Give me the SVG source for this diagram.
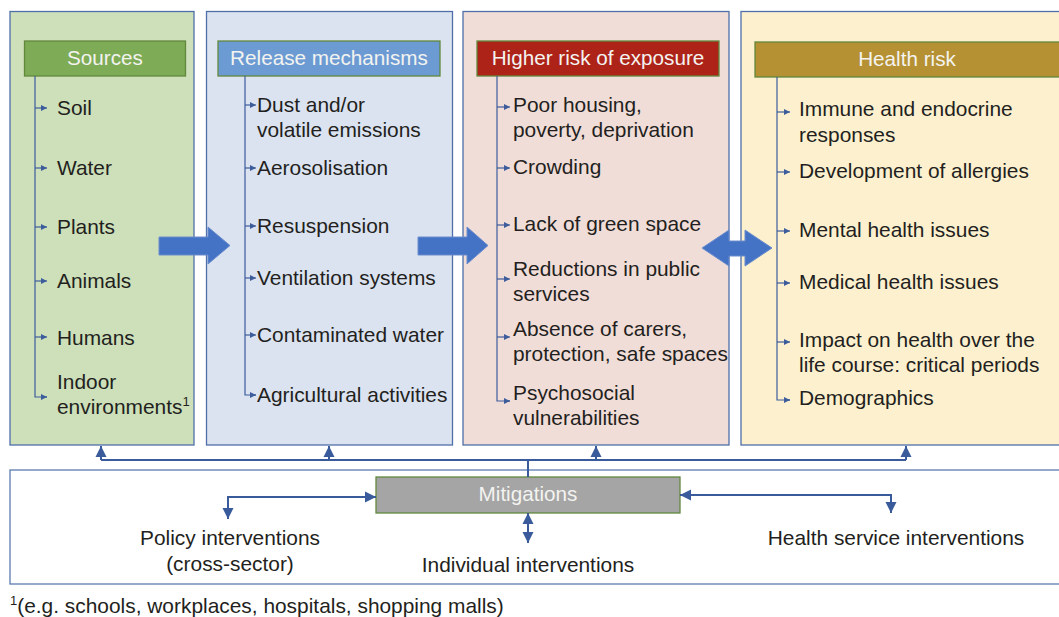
<svg xmlns="http://www.w3.org/2000/svg" width="1059" height="617" viewBox="0 0 1059 617">
<style>
.col{stroke:#4f6fa8;stroke-width:1.3}
.hdr{stroke:#62883c;stroke-width:1.3}
.ht{font-family:"Liberation Sans",Arial,sans-serif;font-size:20.7px;fill:#f3f3f0;text-anchor:middle}
.t{font-family:"Liberation Sans",Arial,sans-serif;font-size:20.9px;fill:#231f20}
.tc{font-family:"Liberation Sans",Arial,sans-serif;font-size:20.9px;fill:#231f20;text-anchor:middle}
.br{fill:none;stroke:#3d5c9c;stroke-width:1.2}
.cn{fill:none;stroke:#3a5b9b;stroke-width:2}
.blk{fill:#4472c4;stroke:#6b8dcc;stroke-width:1}
</style>
<defs>
<marker id="sa" viewBox="0 0 6 6" refX="6" refY="3" markerWidth="6" markerHeight="6" markerUnits="userSpaceOnUse" orient="auto">
<path d="M0,0 L6,3 L0,6 z" fill="#3d5c9c"/>
</marker>
<marker id="ba" viewBox="0 0 10 10" refX="10" refY="5" markerWidth="11" markerHeight="12" markerUnits="userSpaceOnUse" orient="auto">
<path d="M0,0 L10,5 L0,10 z" fill="#3a5b9b"/>
</marker>
<marker id="bs" viewBox="0 0 10 10" refX="0" refY="5" markerWidth="11" markerHeight="12" markerUnits="userSpaceOnUse" orient="auto">
<path d="M10,0 L0,5 L10,10 z" fill="#3a5b9b"/>
</marker>
</defs>

<g id="sources">
<rect class="col" x="10" y="11.5" width="184" height="433.5" fill="#cde0ba"/>
<rect class="hdr" x="24.5" y="41" width="161" height="35" fill="#7eab55"/>
<text class="ht" x="105" y="65">Sources</text>
<path class="br" d="M35,76 V397 H47"/>
<path class="br" d="M35,108 H47" marker-end="url(#sa)"/>
<path class="br" d="M35,168 H47" marker-end="url(#sa)"/>
<path class="br" d="M35,227 H47" marker-end="url(#sa)"/>
<path class="br" d="M35,281 H47" marker-end="url(#sa)"/>
<path class="br" d="M35,337 H47" marker-end="url(#sa)"/>
<path class="br" d="M46,397 H47" marker-end="url(#sa)"/>
<text class="t" x="57" y="115">Soil</text>
<text class="t" x="57" y="175">Water</text>
<text class="t" x="57" y="234">Plants</text>
<text class="t" x="57" y="288">Animals</text>
<text class="t" x="57" y="345">Humans</text>
<text class="t" x="57" y="389">Indoor</text>
<text class="t" x="57" y="414">environments<tspan font-size="13" dy="-8">1</tspan></text>
</g>

<g id="release">
<rect class="col" x="206.5" y="11.5" width="246" height="433.5" fill="#dbe3f0"/>
<rect class="hdr" x="218" y="41" width="222" height="35" fill="#6c9bd3"/>
<text class="ht" x="329" y="65">Release mechanisms</text>
<path class="br" d="M245,76 V395 H256"/>
<path class="br" d="M245,105 H256" marker-end="url(#sa)"/>
<path class="br" d="M245,168 H256" marker-end="url(#sa)"/>
<path class="br" d="M245,226 H256" marker-end="url(#sa)"/>
<path class="br" d="M245,278 H256" marker-end="url(#sa)"/>
<path class="br" d="M245,335 H256" marker-end="url(#sa)"/>
<path class="br" d="M250,395 H256" marker-end="url(#sa)"/>
<text class="t" x="257" y="112">Dust and/or</text>
<text class="t" x="257" y="137">volatile emissions</text>
<text class="t" x="257" y="175">Aerosolisation</text>
<text class="t" x="257" y="233">Resuspension</text>
<text class="t" x="257" y="285">Ventilation systems</text>
<text class="t" x="257" y="342">Contaminated water</text>
<text class="t" x="257" y="402">Agricultural activities</text>
</g>

<g id="exposure">
<rect class="col" x="463" y="11.5" width="266" height="433.5" fill="#f1ddd8"/>
<rect class="hdr" x="477" y="41" width="242" height="35" fill="#ae2318"/>
<text class="ht" x="598" y="65">Higher risk of exposure</text>
<path class="br" d="M497,76 V401 H510"/>
<path class="br" d="M497,107 H510" marker-end="url(#sa)"/>
<path class="br" d="M497,168 H510" marker-end="url(#sa)"/>
<path class="br" d="M497,225 H510" marker-end="url(#sa)"/>
<path class="br" d="M497,279 H510" marker-end="url(#sa)"/>
<path class="br" d="M497,337 H510" marker-end="url(#sa)"/>
<path class="br" d="M504,401 H510" marker-end="url(#sa)"/>
<text class="t" x="513" y="112">Poor housing,</text>
<text class="t" x="513" y="137">poverty, deprivation</text>
<text class="t" x="513" y="174">Crowding</text>
<text class="t" x="513" y="231">Lack of green space</text>
<text class="t" x="513" y="276">Reductions in public</text>
<text class="t" x="513" y="301">services</text>
<text class="t" x="513" y="336">Absence of carers,</text>
<text class="t" x="513" y="361">protection, safe spaces</text>
<text class="t" x="513" y="400">Psychosocial</text>
<text class="t" x="513" y="425">vulnerabilities</text>
</g>

<g id="health">
<rect class="col" x="741" y="11.5" width="330" height="433.5" fill="#fcf0cf"/>
<rect class="hdr" x="755" y="42" width="320" height="35" fill="#b69133"/>
<text class="ht" x="907" y="66">Health risk</text>
<path class="br" d="M777,77 V400 H790"/>
<path class="br" d="M777,112 H790" marker-end="url(#sa)"/>
<path class="br" d="M777,172 H790" marker-end="url(#sa)"/>
<path class="br" d="M777,231 H790" marker-end="url(#sa)"/>
<path class="br" d="M777,283 H790" marker-end="url(#sa)"/>
<path class="br" d="M777,342 H790" marker-end="url(#sa)"/>
<path class="br" d="M784,400 H790" marker-end="url(#sa)"/>
<text class="t" x="799" y="116">Immune and endocrine</text>
<text class="t" x="799" y="142">responses</text>
<text class="t" x="799" y="178">Development of allergies</text>
<text class="t" x="799" y="237">Mental health issues</text>
<text class="t" x="799" y="289">Medical health issues</text>
<text class="t" x="799" y="347">Impact on health over the</text>
<text class="t" x="799" y="372">life course: critical periods</text>
<text class="t" x="799" y="405">Demographics</text>
</g>

<g id="mitigation-panel">
<rect x="10" y="470" width="1060" height="114" fill="#ffffff" stroke="#5b7bb0" stroke-width="1.3"/>
</g>

<g id="mitigations">
<rect x="376" y="477" width="304" height="36" fill="#a5a5a5" stroke="#62883c" stroke-width="1.3"/>
<text class="ht" x="528" y="501" fill="#eeeeee">Mitigations</text>
</g>

<g id="policy">
<text class="tc" x="230" y="545">Policy interventions</text>
<text class="tc" x="230" y="571">(cross-sector)</text>
</g>
<g id="individual">
<text class="tc" x="528" y="572">Individual interventions</text>
</g>
<g id="health-service">
<text class="tc" x="896" y="545">Health service interventions</text>
</g>

<g id="connectors">
<path class="blk" d="M159,237 H208 V227 L230,245.5 L208,264 V255 H159 Z"/>
<path class="blk" d="M418,237 H467 V227 L488,245.5 L467,264 V255 H418 Z"/>
<path class="blk" d="M702,248 L729,230 V241 H745 V230 L772,248 L745,266 V256 H729 V266 Z"/>
<path class="cn" d="M101,460 H906"/>
<path class="cn" d="M101,460 V446" marker-end="url(#ba)"/>
<path class="cn" d="M329,460 V446" marker-end="url(#ba)"/>
<path class="cn" d="M596,460 V446" marker-end="url(#ba)"/>
<path class="cn" d="M906,460 V446" marker-end="url(#ba)"/>
<path class="cn" d="M528,460 V477"/>
<path class="cn" d="M228,519 V497 H376" marker-start="url(#bs)" marker-end="url(#ba)"/>
<path class="cn" d="M680,495 H891 V513" marker-start="url(#bs)" marker-end="url(#ba)"/>
<path class="cn" d="M528,513 V543" marker-start="url(#bs)" marker-end="url(#ba)"/>
</g>

<g id="footnote">
<text class="t" x="10" y="613"><tspan font-size="13" dy="-8">1</tspan><tspan dy="8">(e.g. schools, workplaces, hospitals, shopping malls)</tspan></text>
</g>
</svg>
